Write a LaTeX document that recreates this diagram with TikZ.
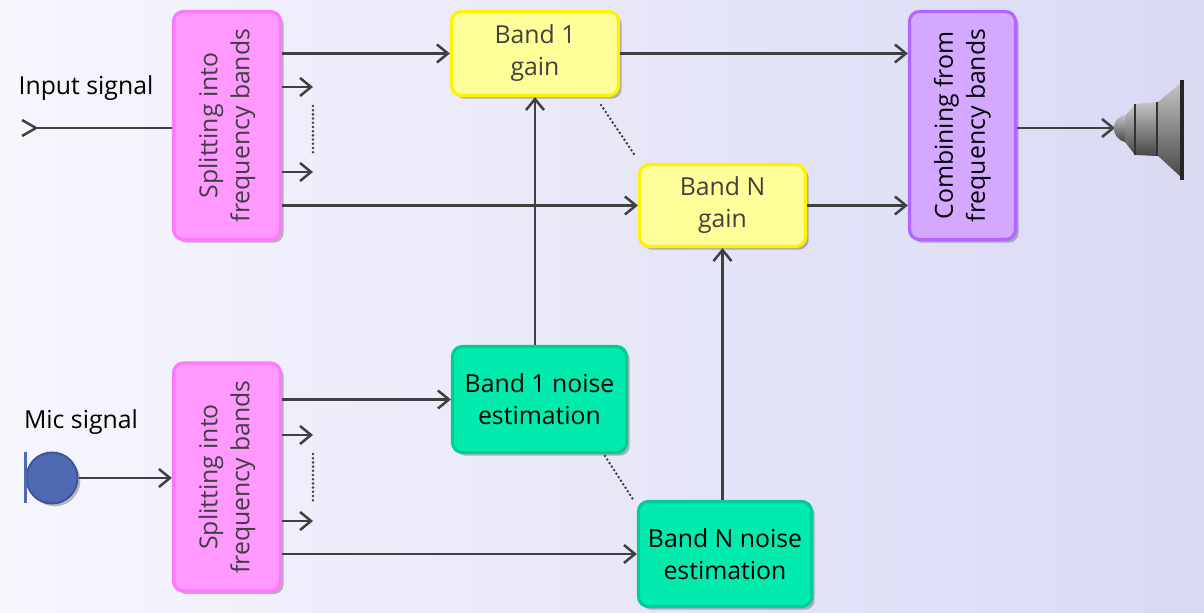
\documentclass[tikz,border=0pt]{standalone}
\usepackage{fontspec}
\setmainfont{Open Sans}
\usepackage{graphicx}
\usetikzlibrary{arrows.meta,shadows,calc}
\definecolor{bgl}{HTML}{F6F6FD}
\definecolor{bgr}{HTML}{D9D9F4}
\definecolor{ln}{HTML}{404040}
\definecolor{pinkf}{HTML}{FF99FF}
\definecolor{pinkd}{HTML}{FF77FF}
\definecolor{yelf}{HTML}{FFFF99}
\definecolor{yeld}{HTML}{FFF200}
\definecolor{grnf}{HTML}{00EBAD}
\definecolor{grnd}{HTML}{00CC96}
\definecolor{purf}{HTML}{D4A8FF}
\definecolor{purd}{HTML}{B366FF}
\definecolor{micf}{HTML}{4F6AB3}
\definecolor{micd}{HTML}{3D5597}
\tikzset{
  boxbase/.style={rectangle, rounded corners=5pt, line width=1.6pt, inner sep=0pt, align=center,
    font=\fontsize{12.4}{16}\selectfont,
    drop shadow={shadow xshift=1.6pt, shadow yshift=-1.6pt, opacity=0.25, fill=black}},
  splitbox/.style={boxbase, fill=pinkf, draw=pinkd, text=ln, minimum width=53.5pt, minimum height=114pt},
  gainbox/.style={boxbase, fill=yelf, draw=yeld, text=ln},
  noisebox/.style={boxbase, fill=grnf, draw=grnd, text=black},
  combbox/.style={boxbase, fill=purf, draw=purd, text=black, minimum width=53pt, minimum height=114pt},
  arr/.style={draw=ln, line width=1.25pt, -{Straight Barb[length=5.5pt,width=9pt,line width=1.25pt]}},
  plain/.style={draw=ln, line width=1.25pt},
  dots/.style={draw=ln, line width=1.4pt, line cap=round, dash pattern=on 0pt off 2.1pt},
  lbl/.style={font=\fontsize{12.4}{16}\selectfont, text=black, inner sep=0pt},
  metal/.style={top color=gray!45, middle color=white, bottom color=gray!55!black},
}
\begin{document}
\begin{tikzpicture}[x=0.5pt,y=-0.5pt]
\useasboundingbox (0,0) rectangle (1204,613);
\shade[left color=bgl, right color=bgr] (0,0) rectangle (1204,613);

% labels
\node[lbl] (lin) at (86,88) {Input signal};
\node[lbl] (lmic) at (81,422) {Mic signal};

% boxes
\node[splitbox] (s1) at (227,125.5) {\rotatebox{90}{\begin{tabular}{@{}c@{}}Splitting into\\frequency bands\end{tabular}}};
\node[splitbox] (s2) at (227,477) {\rotatebox{90}{\begin{tabular}{@{}c@{}}Splitting into\\frequency bands\end{tabular}}};
\node[gainbox, minimum width=83.5pt, minimum height=42pt] (g1) at (535,53.5) {Band 1\\gain};
\node[gainbox, minimum width=83pt, minimum height=41pt] (gN) at (722.5,205.5) {Band N\\gain};
\node[noisebox, minimum width=87pt, minimum height=53pt] (n1) at (539.5,399.5) {Band 1 noise\\estimation};
\node[noisebox, minimum width=86.5pt, minimum height=52.5pt] (nN) at (725,554) {Band N noise\\estimation};
\node[combbox] (cb) at (962.5,125.5) {\rotatebox{90}{\begin{tabular}{@{}c@{}}Combining from\\frequency bands\end{tabular}}};

% mic
\node[circle, fill=micf, draw=micd, line width=1pt, minimum size=25.5pt, inner sep=0pt,
  drop shadow={shadow xshift=1.4pt, shadow yshift=-1.4pt, opacity=0.25, fill=black}] (mic) at (52,478) {};
\coordinate (mb1) at (25,452);
\coordinate (mb2) at (25,503);
\draw[micf, line width=1.5pt] (mb1) -- (mb2);

% coordinates
\coordinate (inp) at (22,128);
\coordinate (a1) at (313,87);
\coordinate (a2) at (313,172);
\coordinate (d1) at (313,106);
\coordinate (d2) at (313,155);
\coordinate (b1) at (313,435);
\coordinate (b2) at (313,521);
\coordinate (e1) at (313,454);
\coordinate (e2) at (313,503);
\coordinate (spk) at (1115,128);
\coordinate (q1) at (601,105);
\coordinate (q2) at (636,157);
\coordinate (r1) at (605,456);
\coordinate (r2) at (634,501);

% input connector
\draw[plain] ($(inp)+(14,0)$) -- (inp -| s1.west);
\draw[draw=ln, line width=1.25pt] ($(inp)+(0,-8)$) -- ($(inp)+(14,0)$) -- ($(inp)+(0,8)$);

% top split outputs
\draw[arr] (s1.east |- g1.west) -- (g1.west);
\draw[arr] (s1.east |- a1) -- (a1);
\draw[arr] (s1.east |- a2) -- (a2);
\draw[dots] (d1) -- (d2);
\draw[arr] (s1.east |- gN.west) -- (gN.west);

% gains to combiner
\draw[arr] (g1.east) -- (g1.east -| cb.west);
\draw[arr] (gN.east) -- (gN.east -| cb.west);
\draw[arr] (cb.east |- spk) -- (spk);
\draw[dots] (q1) -- (q2);

% mic
\draw[arr] (mic.east) -- (mic.east -| s2.west);

% bottom split outputs
\draw[arr] (s2.east |- n1.west) -- (n1.west);
\draw[arr] (s2.east |- b1) -- (b1);
\draw[arr] (s2.east |- b2) -- (b2);
\draw[dots] (e1) -- (e2);
\draw[arr] (s2.east |- nN.west) -- (nN.west);
\draw[dots] (r1) -- (r2);

% noise to gain
\draw[arr] (g1.south |- n1.north) -- (g1.south);
\draw[arr] (gN.south |- nN.north) -- (gN.south);

% speaker
\shade[metal] (1157,103) -- (1182,82) -- (1182,178) -- (1157,155) -- cycle;
\shade[metal] (1135,104) -- (1157,102) -- (1157,156) -- (1135,155) -- cycle;
\shade[metal] (1125,116) -- (1135,105) -- (1135,155) -- (1125,142) -- cycle;
\shade[metal] (1125,115) .. controls (1110,118) and (1110,138) .. (1125,142) -- cycle;
\draw[black!80, line width=1pt] (1135,104) -- (1135,155);
\draw[black!80, line width=1pt] (1157,102) -- (1157,156);
\draw[black!85, line width=1.8pt] (1182,80) -- (1182,180);
\end{tikzpicture}
\end{document}
